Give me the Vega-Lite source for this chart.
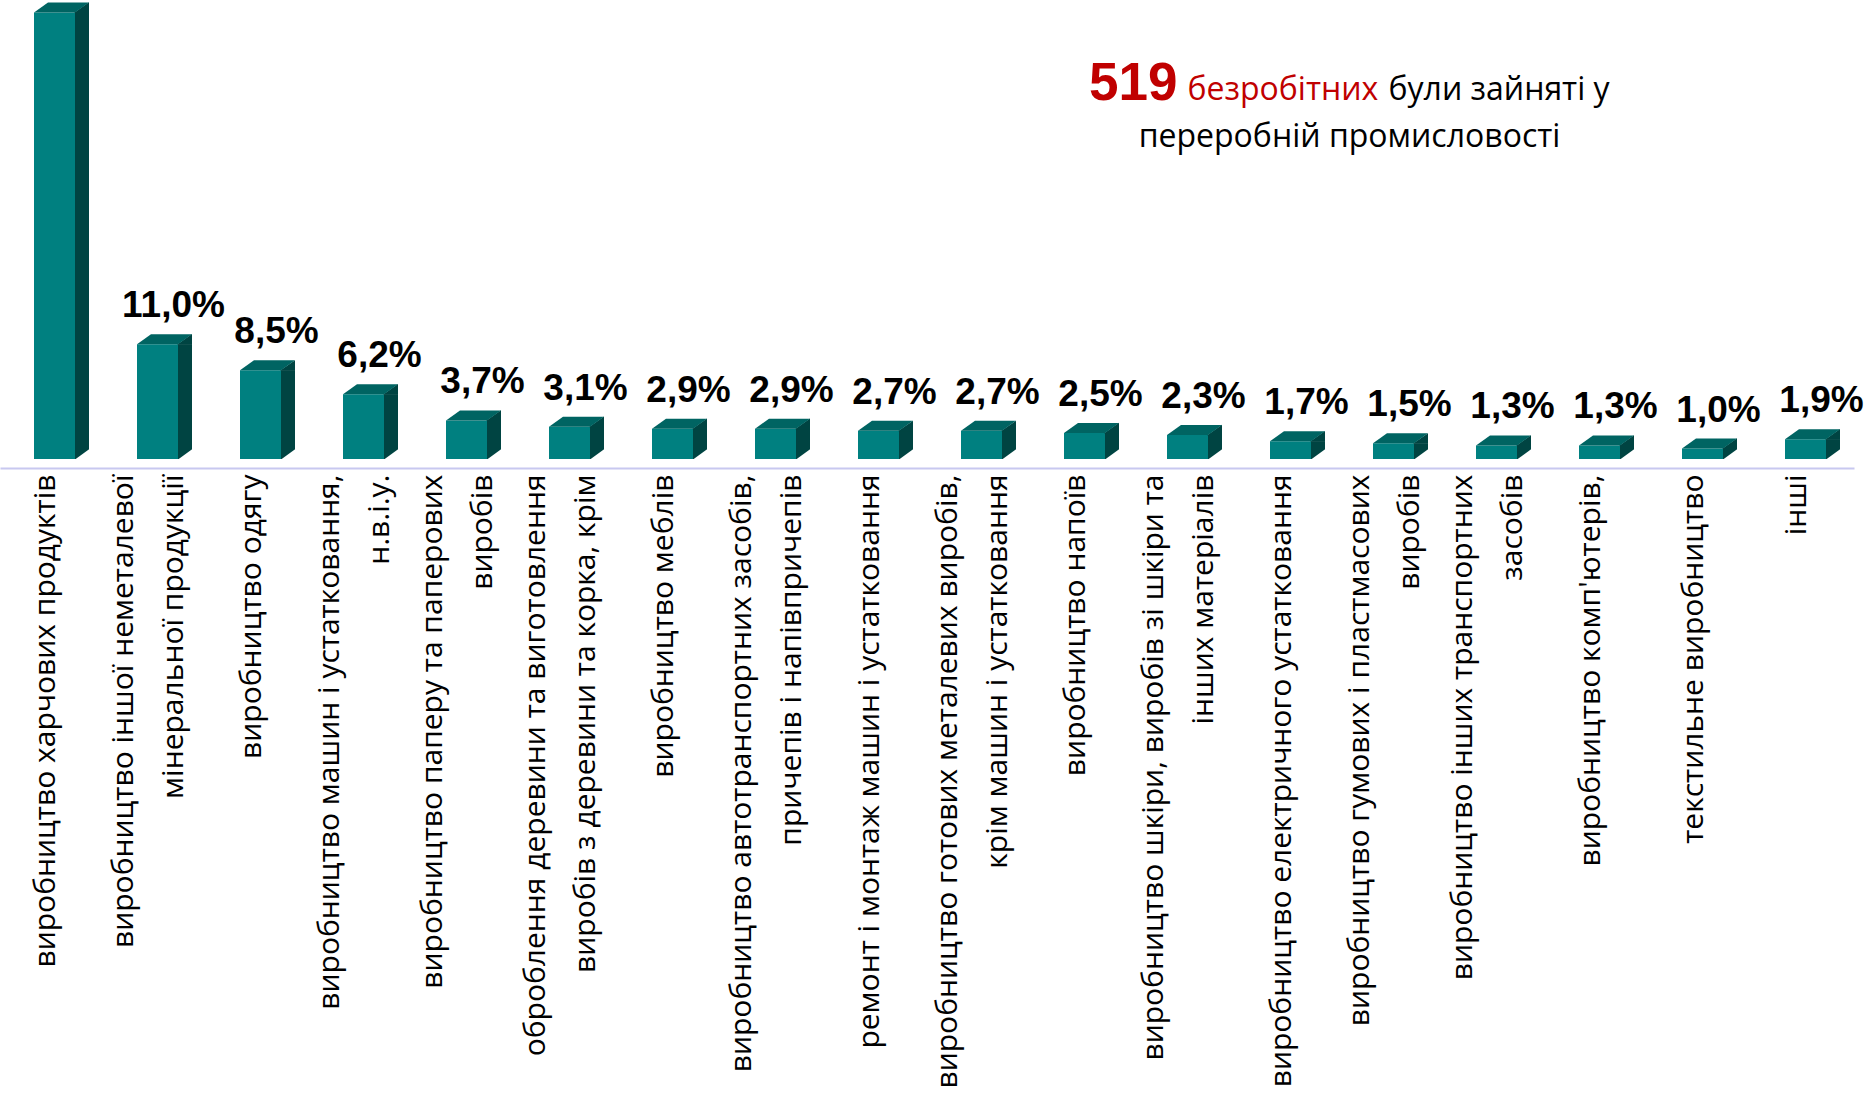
{
  "$schema": "https://vega.github.io/schema/vega-lite/v6.json",
  "width": 1854,
  "height": 459,
  "autosize": {"type": "none"},
  "padding": {"left": 0, "top": 0, "right": 14, "bottom": 643},
  "background": "white",
  "config": {
    "view": {"stroke": null},
    "locale": {"number": {"decimal": ",", "thousands": " ", "grouping": [3], "currency": ["", ""]}}
  },
  "data": {
    "values": [
      {"category": "виробництво харчових продуктів", "value": 0.428},
      {"category": "виробництво іншої неметалевої|мінеральної продукції", "value": 0.110},
      {"category": "виробництво одягу", "value": 0.085},
      {"category": "виробництво машин і устатковання,|н.в.і.у.", "value": 0.062},
      {"category": "виробництво паперу та паперових|виробів", "value": 0.037},
      {"category": "оброблення деревини та виготовлення|виробів з деревини та корка, крім", "value": 0.031},
      {"category": "виробництво меблів", "value": 0.029},
      {"category": "виробництво автотранспортних засобів,|причепів і напівпричепів", "value": 0.029},
      {"category": "ремонт і монтаж машин і устатковання", "value": 0.027},
      {"category": "виробництво готових металевих виробів,|крім машин і устатковання", "value": 0.027},
      {"category": "виробництво напоїв", "value": 0.025},
      {"category": "виробництво шкіри, виробів зі шкіри та|інших матеріалів", "value": 0.023},
      {"category": "виробництво електричного устатковання", "value": 0.017},
      {"category": "виробництво гумових і пластмасових|виробів", "value": 0.015},
      {"category": "виробництво інших транспортних|засобів", "value": 0.013},
      {"category": "виробництво комп'ютерів,", "value": 0.013},
      {"category": "текстильне виробництво", "value": 0.010},
      {"category": "інші", "value": 0.019}
    ]
  },
  "encoding": {
    "x": {
      "field": "category",
      "type": "nominal",
      "sort": null,
      "scale": {"paddingInner": 0, "paddingOuter": 0},
      "axis": {
        "title": null,
        "ticks": false,
        "labelAngle": -90,
        "labelAlign": "right",
        "labelBaseline": "middle",
        "labelFont": "Open Sans",
        "labelFontSize": 30,
        "labelColor": "black",
        "labelLineHeight": 50,
        "labelPadding": 6,
        "labelOffset": {"condition": {"test": "indexof(datum.value, '|') >= 0", "value": -31}, "value": -6},
        "labelLimit": 0,
        "labelOverlap": false,
        "labelExpr": "split(datum.label, '|')",
        "domainColor": "#c8c8f0",
        "domainWidth": 2,
        "offset": 9,
        "grid": false
      }
    },
    "y": {
      "field": "value",
      "type": "quantitative",
      "scale": {"domain": [0, 0.44], "nice": false, "zero": true},
      "axis": null
    }
  },
  "layer": [
    {"mark": {"type": "bar", "width": 14, "xOffset": 30.5, "color": "#004442"}},
    {"mark": {"type": "bar", "width": 41, "xOffset": 3, "color": "#008080"}},
    {"mark": {"type": "point", "shape": "M 23 0.5 L 23 0 L 37.5 -10.2 L 37.5 0.5 Z", "size": 4, "filled": true, "opacity": 1, "color": "#004442", "strokeWidth": 0}},
    {"mark": {"type": "point", "shape": "M -17.5 0 L 23.5 0 L 37.5 -10 L -3.5 -10 Z", "size": 4, "filled": true, "opacity": 1, "color": "#006462", "strokeWidth": 0}},
    {"mark": {"type": "point", "shape": "M 23.5 0.6 L 38.6 -10.6 L 38.6 0.6 Z", "size": 4, "filled": true, "opacity": 1, "color": "white", "strokeWidth": 0}, "encoding": {"y": {"datum": 0}}},
    {
      "transform": [{"filter": "datum.value < 0.4"}],
      "mark": {"type": "text", "dx": 19, "dy": -27, "baseline": "alphabetic", "align": "center", "font": "Liberation Sans", "fontWeight": "bold", "fontSize": 37, "color": "black"},
      "encoding": {"text": {"field": "value", "type": "quantitative", "format": ".1%"}}
    },
    {
      "transform": [{"filter": "datum.category == 'виробництво електричного устатковання'"}],
      "mark": {"type": "text", "text": "519", "align": "right", "baseline": "alphabetic", "dx": -110, "dy": -46, "font": "Liberation Sans", "fontWeight": "bold", "fontSize": 53, "color": "#c00000"},
      "encoding": {"y": {"datum": 0.30}}
    },
    {
      "transform": [{"filter": "datum.category == 'виробництво електричного устатковання'"}],
      "mark": {"type": "text", "text": "безробітних", "align": "left", "baseline": "alphabetic", "dx": -100, "dy": -46, "font": "Open Sans", "fontSize": 32, "color": "#c00000"},
      "encoding": {"y": {"datum": 0.30}}
    },
    {
      "transform": [{"filter": "datum.category == 'виробництво електричного устатковання'"}],
      "mark": {"type": "text", "text": "були зайняті у", "align": "left", "baseline": "alphabetic", "dx": 101, "dy": -46, "font": "Open Sans", "fontSize": 32, "color": "black"},
      "encoding": {"y": {"datum": 0.30}}
    },
    {
      "transform": [{"filter": "datum.category == 'виробництво електричного устатковання'"}],
      "mark": {"type": "text", "text": "переробній промисловості", "align": "center", "baseline": "alphabetic", "dx": 62, "dy": 1, "font": "Open Sans", "fontSize": 32, "color": "black"},
      "encoding": {"y": {"datum": 0.30}}
    }
  ]
}
